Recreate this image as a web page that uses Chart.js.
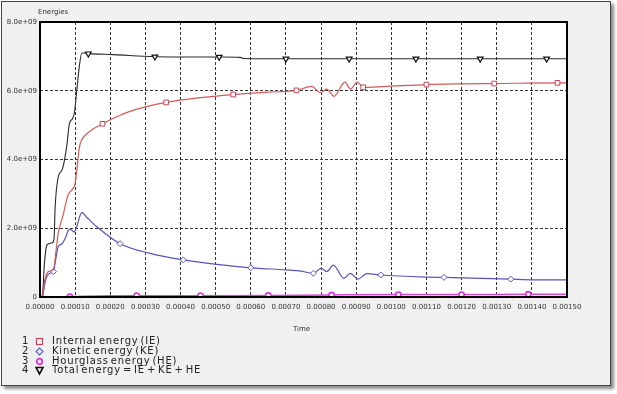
<!DOCTYPE html>
<html><head><meta charset="utf-8">
<script src="https://cdn.jsdelivr.net/npm/chart.js@4/dist/chart.umd.min.js"></script>
<style>
html,body{margin:0;padding:0;background:#fff;width:617px;height:394px;overflow:hidden;}
#frame{position:absolute;left:1px;top:1px;width:608px;height:383px;background:#f0f0f0;border:1px solid #444;box-shadow:3px 3px 3px rgba(0,0,0,0.45);}
#cv{position:absolute;left:0;top:0;}
.lbl{position:absolute;font-family:"DejaVu Sans";font-size:7px;color:#333;white-space:nowrap;}
#legend{position:absolute;left:22px;top:336px;font-family:"DejaVu Sans";font-size:10px;color:#222;line-height:9.8px;}
#legend .row{position:relative;height:9.8px;white-space:nowrap;}
#legend .num{position:absolute;left:0;}
#legend svg{position:absolute;left:13px;top:1px;}
#legend .txt{position:absolute;left:30px;letter-spacing:0.8px;word-spacing:-2px;}
</style></head>
<body>
<div id="frame"></div>
<canvas id="cv" width="617" height="330"></canvas>
<div class="lbl" style="left:38px;top:8px;">Energies</div>
<div class="lbl" style="left:293px;top:325px;">Time</div>
<div id="legend">
 <div class="row"><span class="num">1</span><svg width="10" height="10"><rect x="1.5" y="1.5" width="6" height="6" fill="none" stroke="#c84458" stroke-width="1.2"/></svg><span class="txt">Internal energy (IE)</span></div>
 <div class="row"><span class="num">2</span><svg width="10" height="10"><polygon points="4.5,1 8,4.5 4.5,8 1,4.5" fill="none" stroke="#5a5ad0" stroke-width="1.1"/></svg><span class="txt">Kinetic energy (KE)</span></div>
 <div class="row"><span class="num">3</span><svg width="10" height="10"><circle cx="4.5" cy="4.5" r="2.8" fill="none" stroke="#e030e0" stroke-width="1.8"/></svg><span class="txt">Hourglass energy (HE)</span></div>
 <div class="row"><span class="num">4</span><svg width="10" height="10"><polygon points="1,1.5 8,1.5 4.5,8" fill="none" stroke="#111" stroke-width="1.6"/></svg><span class="txt">Total energy = IE + KE + HE</span></div>
</div>
<script>
// time in seconds, energies in units of 1e9
const ieT = [0, 0.000007, 0.000014, 0.000024, 0.000038, 0.000046, 0.000052, 0.000066, 0.00008, 0.000095, 0.0001, 0.000105, 0.000112, 0.000118, 0.00013, 0.00015, 0.000178, 0.00022, 0.000256, 0.0003, 0.000359, 0.00045, 0.00055, 0.00065, 0.00073, 0.000773, 0.000799, 0.000816, 0.000837, 0.000868, 0.000884, 0.000903, 0.00092, 0.000977, 0.0011, 0.0012, 0.001293, 0.001473, 0.0015];
const ieV = [0, 0.02, 0.5, 0.74, 0.79, 1.37, 1.86, 2.39, 2.97, 3.17, 3.3, 3.7, 4.35, 4.55, 4.72, 4.88, 5.04, 5.25, 5.4, 5.53, 5.66, 5.79, 5.89, 5.96, 6.01, 6.13, 5.94, 6.05, 5.84, 6.25, 6.05, 6.25, 6.1, 6.12, 6.18, 6.2, 6.21, 6.23, 6.23];
const ieMarks = [0.000178, 0.000359, 0.00055, 0.00073, 0.00092, 0.0011, 0.001293, 0.001473];

const keT = [0, 0.000007, 0.000014, 0.000019, 0.000028, 0.000038, 0.000046, 0.000052, 0.000062, 0.000074, 0.00008, 0.000087, 0.000097, 0.000104, 0.000119, 0.000133, 0.000161, 0.000228, 0.000313, 0.000408, 0.000503, 0.0006, 0.0007, 0.00074, 0.000778, 0.0008, 0.000816, 0.000835, 0.000865, 0.000883, 0.000905, 0.00093, 0.00097, 0.0011, 0.00115, 0.00134, 0.0014, 0.0015];
const keV = [0, 0.02, 0.4, 0.59, 0.69, 0.74, 1.17, 1.47, 1.54, 1.76, 1.93, 1.97, 1.89, 2.03, 2.46, 2.32, 2.05, 1.55, 1.27, 1.08, 0.95, 0.85, 0.79, 0.76, 0.69, 0.83, 0.74, 0.93, 0.54, 0.69, 0.52, 0.68, 0.64, 0.58, 0.57, 0.52, 0.5, 0.5];
const keMarks = [0.000038, 0.000228, 0.000408, 0.0006, 0.000778, 0.00097, 0.00115, 0.00134];

const heT = [0, 0.00005, 0.000085, 0.00012, 0.0002, 0.000275, 0.000457, 0.00065, 0.00083, 0.00102, 0.0012, 0.00139, 0.0015];
const heV = [0, 0.005, 0.01, 0.02, 0.035, 0.04, 0.04, 0.045, 0.06, 0.07, 0.07, 0.08, 0.08];
const heMarks = [0.000085, 0.000275, 0.000457, 0.00065, 0.00083, 0.00102, 0.0012, 0.00139];

const teT = [0, 0.000007, 0.000012, 0.000017, 0.00002, 0.000035, 0.00004, 0.000043, 0.000052, 0.00006, 0.000066, 0.000076, 0.000084, 0.000092, 0.000098, 0.000104, 0.000112, 0.000119, 0.0001375, 0.00021, 0.000327, 0.00051, 0.00057, 0.00058, 0.0007, 0.00088, 0.00107, 0.001253, 0.001442, 0.0015];
const teV = [0, 0.05, 0.9, 1.4, 1.52, 1.58, 1.7, 2.6, 3.5, 3.65, 3.8, 4.38, 5.06, 5.18, 5.36, 5.94, 6.71, 7.1, 7.08, 7.05, 6.99, 6.98, 6.97, 6.94, 6.93, 6.93, 6.93, 6.93, 6.93, 6.93];
const teMarks = [0.0001375, 0.000327, 0.00051, 0.0007, 0.00088, 0.00107, 0.001253, 0.001442];

const xTickMin = 0, xTickMax = 0.0015, xTickStep = 0.0001;
const yTickMin = 0, yTickMax = 8, yTickStep = 2;

function pts(t, v){ return t.map((x,i)=>({x:x, y:v[i]})); }
function radii(t, marks, r){ return t.map(x => marks.includes(x) ? r : 0); }

const areaPlugin = {
  id:'area',
  beforeDraw(chart){
    const a = chart.chartArea, c = chart.ctx;
    c.save(); c.fillStyle='#fff'; c.fillRect(a.left, a.top, a.right-a.left, a.bottom-a.top); c.restore();
  },
  afterDraw(chart){
    const a = chart.chartArea, c = chart.ctx;
    c.save(); c.strokeStyle='#000'; c.lineWidth=2;
    c.strokeRect(a.left, a.top, a.right-a.left, a.bottom-a.top); c.restore();
  }
};

const common = {fill:false, cubicInterpolationMode:'monotone', pointHoverRadius:0, pointBackgroundColor:'#fff'};

new Chart(document.getElementById('cv'), {
  type:'line',
  data:{datasets:[
    Object.assign({label:'Internal energy (IE)', data:pts(ieT,ieV), borderColor:'#d25a5a', borderWidth:1.2,
      pointStyle:'rect', pointRadius:radii(ieT,ieMarks,3.3), pointBorderColor:'#c84458', pointBorderWidth:1}, common),
    Object.assign({label:'Kinetic energy (KE)', data:pts(keT,keV), borderColor:'#5555b8', borderWidth:1.2,
      pointStyle:'rectRot', pointRadius:radii(keT,keMarks,3), pointBorderColor:'#5a5ad0', pointBorderWidth:1}, common),
    Object.assign({label:'Hourglass energy (HE)', data:pts(heT,heV), borderColor:'#e040e0', borderWidth:1.5,
      pointStyle:'circle', pointRadius:radii(heT,heMarks,2.6), pointBorderColor:'#e030e0', pointBorderWidth:1.6}, common),
    Object.assign({label:'Total energy = IE + KE + HE', data:pts(teT,teV), borderColor:'#2a2a2a', borderWidth:1.1,
      pointStyle:'triangle', pointRotation:180, pointRadius:radii(teT,teMarks,3.3), pointBorderColor:'#111', pointBorderWidth:1.2}, common)
  ]},
  options:{
    responsive:false, animation:false, events:[],
    layout:{padding:{left:0, top:22, right:50, bottom:0}},
    plugins:{legend:{display:false}, tooltip:{enabled:false}},
    scales:{
      x:{type:'linear', min:xTickMin, max:xTickMax,
        afterFit(s){ s.height = 33; },
        border:{display:false, dash:[3,2]},
        grid:{color:'#333', lineWidth:1, drawTicks:false},
        ticks:{stepSize:xTickStep, padding:6, color:'#333', maxRotation:0, autoSkip:false,
          font:{family:'DejaVu Sans', size:7},
          callback:(v)=>v.toFixed(5)}
      },
      y:{type:'linear', min:yTickMin, max:yTickMax,
        afterFit(s){ s.width = 40; },
        border:{display:false, dash:[3,2]},
        grid:{color:'#333', lineWidth:1, drawTicks:false},
        ticks:{stepSize:yTickStep, padding:3, color:'#333',
          font:{family:'DejaVu Sans', size:7},
          callback:(v)=> v===0 ? '0' : v.toFixed(1)+'e+09'}
      }
    }
  },
  plugins:[areaPlugin]
});
</script>
</body></html>
